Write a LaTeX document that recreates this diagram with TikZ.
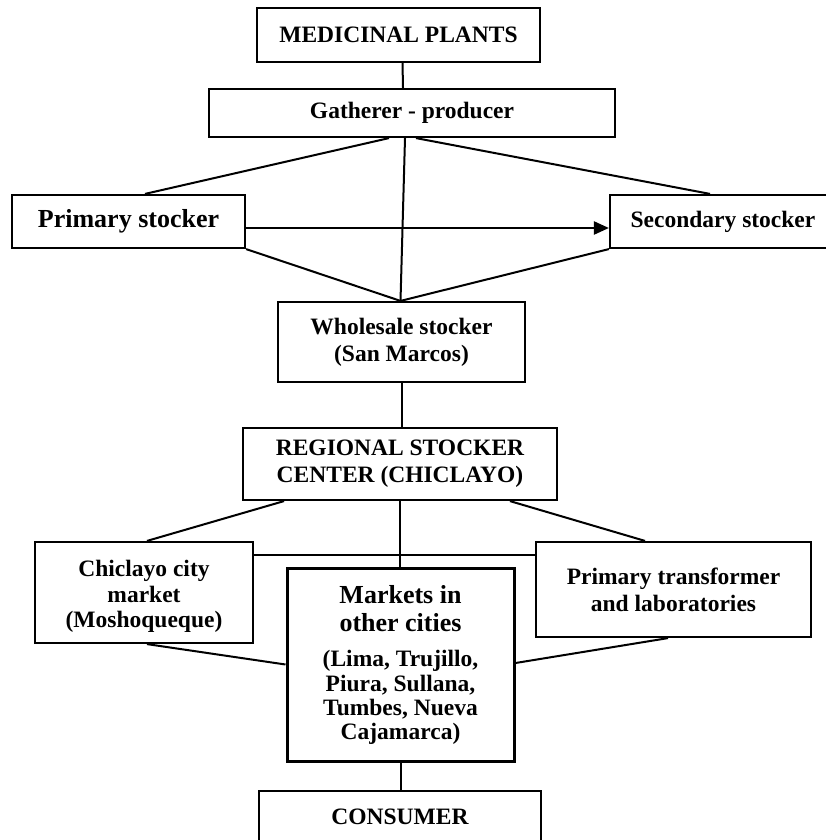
\documentclass[tikz,border=0pt]{standalone}
\usepackage{fontspec}
\setmainfont{Liberation Serif}
\usetikzlibrary{arrows.meta}
\begin{document}
\begin{tikzpicture}[x=1pt,y=-1pt,
  box/.style={draw, line width=2.2pt, inner sep=0pt, align=center,
    font=\bfseries\fontsize{23.5}{27}\selectfont},
  bigtext/.style={font=\bfseries\fontsize{26}{28}\selectfont},
  link/.style={line width=2pt},
  flow/.style={line width=2.4pt, -{Triangle[length=15pt,width=13pt]}},
]
\useasboundingbox (0,0) rectangle (825,840);
\fill[white] (0,0) rectangle (825,840);

% boxes of the supply chain
\node[box, minimum width=283pt, minimum height=54pt] (mp) at (398.5,35) {MEDICINAL PLANTS};
\node[box, minimum width=406pt, minimum height=48pt] (gp) at (412,113) {Gatherer - producer};
\node[box, bigtext, minimum width=233pt, minimum height=53pt] (ps) at (128.5,221.5) {Primary stocker};
\node[box, minimum width=226pt, minimum height=53pt] (ss) at (723,221.5) {Secondary stocker};
\node[box, minimum width=247pt, minimum height=80pt] (ws) at (401.5,342) {Wholesale stocker\\(San Marcos)};
\node[box, minimum width=314pt, minimum height=72pt] (rs) at (400,464) {REGIONAL STOCKER\\CENTER (CHICLAYO)};
\node[box, minimum width=218pt, minimum height=101pt] (cm) at (144,592.5)
  {\raisebox{-4pt}[\height][\depth]{\begin{tabular}{@{}c@{}}Chiclayo city\\[-1pt]market\\[-2pt](Moshoqueque)\end{tabular}}};
\node[box, minimum width=275pt, minimum height=95pt] (pt) at (673.5,589.5) {Primary transformer\\and laboratories};
\node[box, line width=3pt, minimum width=227pt, minimum height=193pt] (mo) at (400.5,664.5)
  {{\fontsize{26}{28}\selectfont Markets in}\\[1pt]
   {\fontsize{26}{28}\selectfont other cities}\\[8pt]
   (Lima, Trujillo,\\[-2pt]
   Piura, Sullana,\\[-3pt]
   Tumbes, Nueva\\[-3pt]
   Cajamarca)};
\node[box, minimum width=282pt, minimum height=52pt] (co) at (400,817) {CONSUMER};

% connectors
\draw[link] ([xshift=4pt]mp.south) -- ([xshift=-9pt]gp.north);
\draw[link] ([xshift=-23pt]gp.south) -- ([xshift=16.5pt]ps.north);
\draw[link] ([xshift=4pt]gp.south) -- ([xshift=-13pt]ss.north);
\draw[link] ([xshift=-7pt]gp.south) -- ([xshift=-1pt]ws.north);
\draw[link] (ps.south east) -- ([xshift=-1pt]ws.north);
\draw[link] (ss.south west) -- ([xshift=-1pt]ws.north);
\draw[flow] ([yshift=-6.5pt]ps.east) -- ([yshift=-6.5pt]ss.west);
\draw[link] (ws.south) -- (ws.south |- rs.north);
\draw[link] ([xshift=-116pt]rs.south) -- ([xshift=3pt]cm.north);
\draw[link] ([xshift=110pt]rs.south) -- ([xshift=-28.5pt]pt.north);
\draw[link] (rs.south) -- (rs.south |- mo.north);
\draw[link] ([yshift=37.5pt]cm.east) -- ([yshift=34.5pt]pt.west);
\draw[link] ([xshift=3pt]cm.south) -- (mo.west);
\draw[link] ([xshift=-5.5pt]pt.south) -- ([yshift=1.5pt]mo.east);
\draw[link] (mo.south) -- (mo.south |- co.north);
\end{tikzpicture}
\end{document}
